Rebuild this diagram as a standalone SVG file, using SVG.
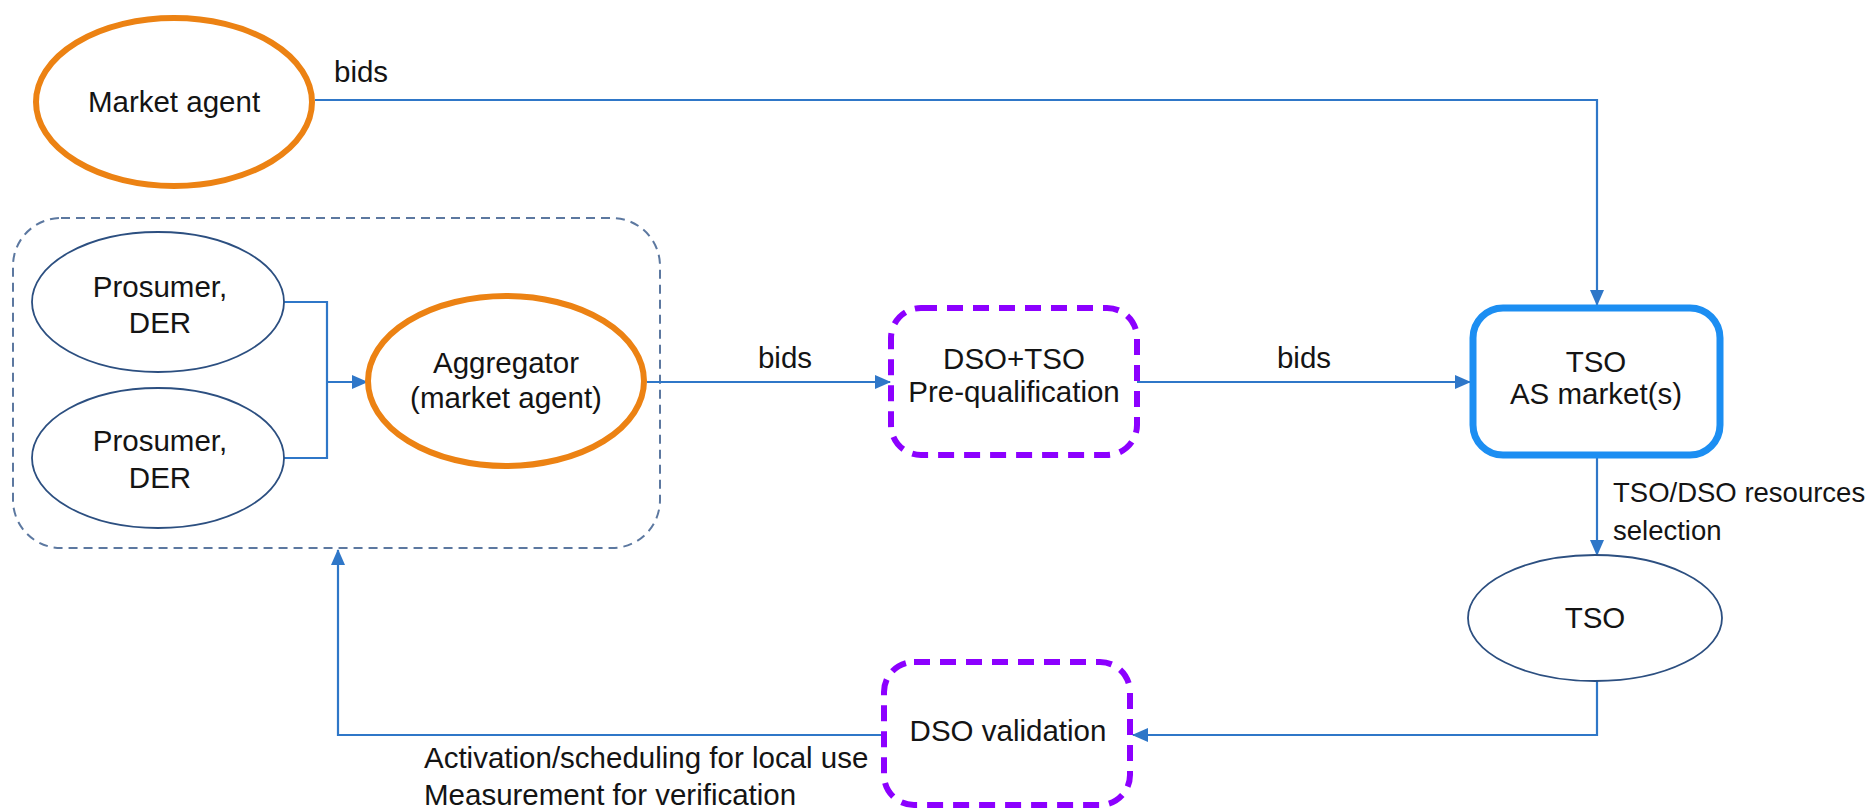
<svg xmlns="http://www.w3.org/2000/svg" width="1872" height="809" viewBox="0 0 1872 809">
  <style>
    .lbl { font-family: "Liberation Sans", Arial, sans-serif; font-size: 29.5px; fill: #141414; }
    .mid { text-anchor: middle; }
    .side { font-size: 27.5px; }
    .conn { fill: none; stroke: #2F77C8; stroke-width: 2.2; }
    .agent { fill: #ffffff; stroke: #EC8213; stroke-width: 6; }
    .party { fill: #ffffff; stroke: #2C4F80; stroke-width: 1.8; }
    .check { fill: #ffffff; stroke: #8C00FF; stroke-width: 6; stroke-dasharray: 16 10; }
    .market { fill: #ffffff; stroke: #1C8EF2; stroke-width: 7; }
    .group { fill: none; stroke: #5C78A0; stroke-width: 2; stroke-dasharray: 9 6; }
  </style>
  <defs>
    <marker id="arrow" markerUnits="userSpaceOnUse" markerWidth="16" markerHeight="14" refX="15" refY="7" orient="auto">
      <path d="M0,0 L16,7 L0,14 Z" fill="#2F77C8"/>
    </marker>
  </defs>

  <rect width="1872" height="809" fill="#ffffff"/>

  <!-- aggregated prosumers -->
  <g id="prosumer-group">
    <rect class="group" x="13" y="218" width="647" height="330" rx="48" ry="48"/>
  </g>

  <g id="connectors">
    <!-- market agent bids to TSO market -->
    <path class="conn" d="M315,100 H1597 V305" marker-end="url(#arrow)"/>
    <!-- prosumers to aggregator -->
    <path class="conn" d="M284,302 H327 V458 H284"/>
    <path class="conn" d="M327,382 H367" marker-end="url(#arrow)"/>
    <!-- aggregator bids to pre-qualification -->
    <path class="conn" d="M647,382 H890" marker-end="url(#arrow)"/>
    <!-- pre-qualified bids to TSO market -->
    <path class="conn" d="M1137,382 H1470" marker-end="url(#arrow)"/>
    <!-- resource selection -->
    <path class="conn" d="M1597,458 V555" marker-end="url(#arrow)"/>
    <!-- TSO to DSO validation -->
    <path class="conn" d="M1597,681 V735 H1133" marker-end="url(#arrow)"/>
    <!-- activation back to aggregated resources -->
    <path class="conn" d="M883,735 H338 V550" marker-end="url(#arrow)"/>
    <text class="lbl" x="334" y="82">bids</text>
    <text class="lbl mid" x="785" y="368">bids</text>
    <text class="lbl mid" x="1304" y="368">bids</text>
    <text class="lbl side" x="1613" y="502">TSO/DSO resources</text>
    <text class="lbl side" x="1613" y="540">selection</text>
    <text class="lbl" x="424" y="768">Activation/scheduling for local use</text>
    <text class="lbl" x="424" y="805">Measurement for verification</text>
  </g>

  <g id="market-agent">
    <ellipse class="agent" cx="174" cy="102" rx="138" ry="84"/>
    <text class="lbl mid" x="174" y="112">Market agent</text>
  </g>

  <g id="prosumer-1">
    <ellipse class="party" cx="158" cy="302" rx="126" ry="70"/>
    <text class="lbl mid" x="160" y="297">Prosumer,</text>
    <text class="lbl mid" x="160" y="333">DER</text>
  </g>

  <g id="prosumer-2">
    <ellipse class="party" cx="158" cy="458" rx="126" ry="70"/>
    <text class="lbl mid" x="160" y="451">Prosumer,</text>
    <text class="lbl mid" x="160" y="488">DER</text>
  </g>

  <g id="aggregator">
    <ellipse class="agent" cx="506" cy="381" rx="138" ry="85"/>
    <text class="lbl mid" x="506" y="373">Aggregator</text>
    <text class="lbl mid" x="506" y="408">(market agent)</text>
  </g>

  <g id="prequalification">
    <rect class="check" x="891" y="308" width="246" height="147" rx="30" ry="30"/>
    <text class="lbl mid" x="1014" y="369">DSO+TSO</text>
    <text class="lbl mid" x="1014" y="402">Pre-qualification</text>
  </g>

  <g id="tso-market">
    <rect class="market" x="1473" y="308" width="247" height="147" rx="30" ry="30"/>
    <text class="lbl mid" x="1596" y="372">TSO</text>
    <text class="lbl mid" x="1596" y="404">AS market(s)</text>
  </g>

  <g id="tso">
    <ellipse class="party" cx="1595" cy="618" rx="127" ry="63"/>
    <text class="lbl mid" x="1595" y="628">TSO</text>
  </g>

  <g id="dso-validation">
    <rect class="check" x="884" y="662" width="246" height="143" rx="30" ry="30"/>
    <text class="lbl mid" x="1008" y="741">DSO validation</text>
  </g>
</svg>
